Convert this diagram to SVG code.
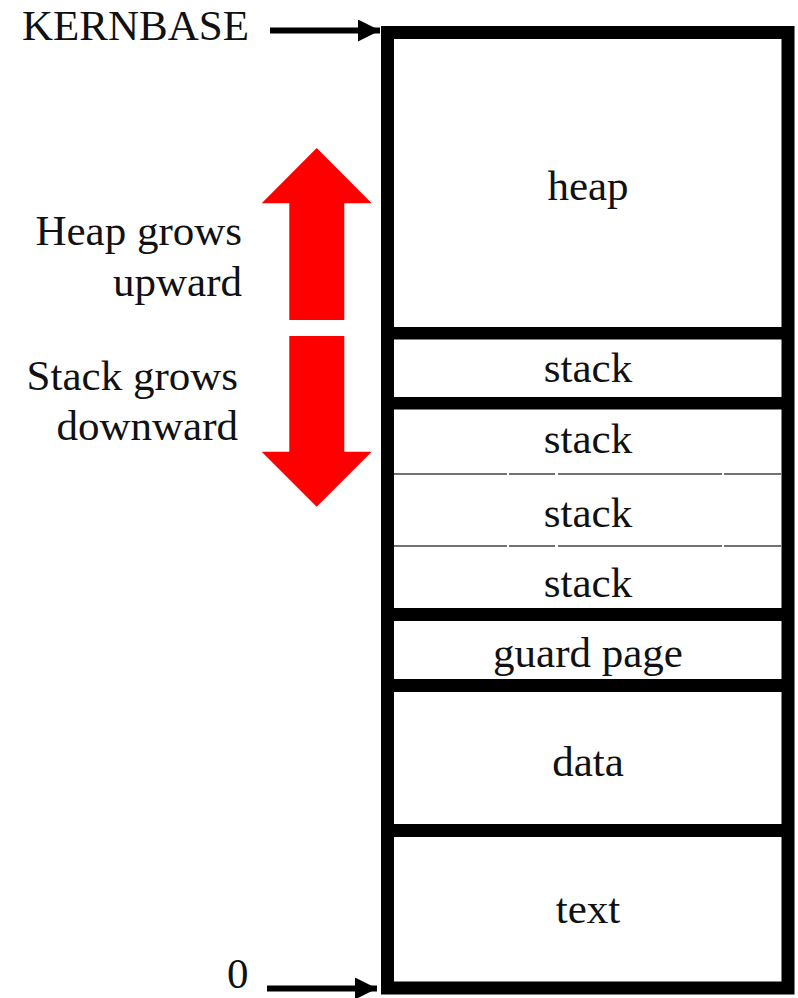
<svg xmlns="http://www.w3.org/2000/svg" width="798" height="998" viewBox="0 0 798 998">
<defs>
<style>
.t{font-family:"Liberation Serif","Times New Roman",serif;font-size:43px;fill:#111;}
.c{text-anchor:middle;}
.e{text-anchor:end;}
.div{fill:#000;}
.thin{stroke:#444;stroke-width:1.5;fill:none;}
.red{fill:#ff0000;}
.ptr{stroke:#000;stroke-width:6;fill:none;}
</style>
<marker id="ah" markerUnits="userSpaceOnUse" markerWidth="22" markerHeight="22" refX="22" refY="11" orient="auto">
<path d="M0,0 L22,11 L0,22 z" fill="#000"/>
</marker>
</defs>
<rect width="798" height="998" fill="#fff"/>
<g id="memory">
<rect x="387.5" y="32.5" width="400.5" height="955.5" fill="#fff" stroke="#000" stroke-width="13"/>
<rect class="div" x="381" y="327" width="413" height="12.5"/>
<rect class="div" x="381" y="397" width="413" height="12.5"/>
<rect class="div" x="381" y="608" width="413" height="13"/>
<rect class="div" x="381" y="679" width="413" height="13"/>
<rect class="div" x="381" y="824" width="413" height="13"/>
</g>
<g id="heap"><text class="t c" x="588" y="200">heap</text></g>
<g id="stack1"><text class="t c" x="588" y="382">stack</text></g>
<g id="stack2"><text class="t c" x="588" y="453">stack</text>
<path class="thin" d="M394,474 H507 M509,474 H555 M558,474 H722 M724,474 H781"/></g>
<g id="stack3"><text class="t c" x="588" y="527">stack</text>
<path class="thin" d="M394,546 H507 M509,546 H555 M558,546 H722 M724,546 H781"/></g>
<g id="stack4"><text class="t c" x="588" y="597">stack</text></g>
<g id="guard"><text class="t c" x="588" y="667">guard page</text></g>
<g id="data"><text class="t c" x="588" y="776">data</text></g>
<g id="textseg"><text class="t c" x="588" y="923">text</text></g>
<g id="labels">
<text class="t" x="22" y="40">KERNBASE</text>
<text class="t" x="227" y="988">0</text>
<text class="t e" x="242" y="245">Heap grows</text>
<text class="t e" x="242" y="296">upward</text>
<text class="t e" x="238" y="390">Stack grows</text>
<text class="t e" x="238" y="440">downward</text>
</g>
<g id="connectors">
<line class="ptr" x1="270" y1="30.5" x2="380" y2="30.5" marker-end="url(#ah)"/>
<line class="ptr" x1="267" y1="988.5" x2="377" y2="988.5" marker-end="url(#ah)"/>
<polygon class="red" points="316.7,148 371.7,203.3 344.3,203.3 344.3,320 289.3,320 289.3,203.3 261.7,203.3"/>
<polygon class="red" points="289.3,336 344.3,336 344.3,451.7 371.7,451.7 316.7,506.7 261.7,451.7 289.3,451.7"/>
</g>
</svg>
